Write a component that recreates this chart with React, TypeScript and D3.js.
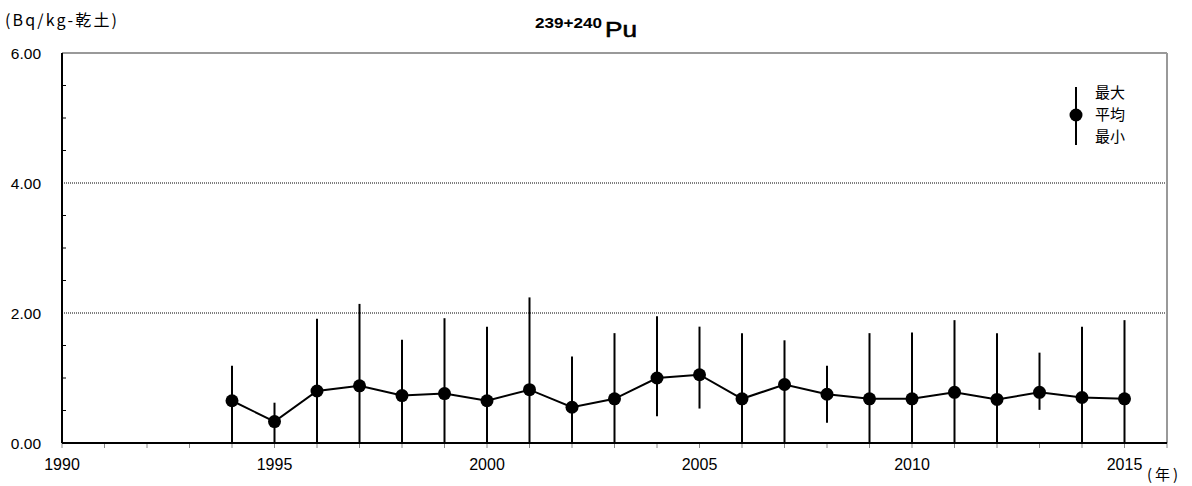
import React from "react";
import * as d3 from "d3";

const years = [1994, 1995, 1996, 1997, 1998, 1999, 2000, 2001, 2002, 2003, 2004, 2005, 2006, 2007, 2008, 2009, 2010, 2011, 2012, 2013, 2014, 2015];
const meanValues = [0.65, 0.33, 0.8, 0.88, 0.73, 0.76, 0.65, 0.82, 0.55, 0.68, 1.0, 1.05, 0.68, 0.9, 0.75, 0.68, 0.68, 0.78, 0.67, 0.78, 0.7, 0.68];
const maxValues = [1.19, 0.62, 1.91, 2.14, 1.59, 1.92, 1.79, 2.24, 1.33, 1.69, 1.95, 1.79, 1.69, 1.58, 1.19, 1.69, 1.7, 1.89, 1.69, 1.39, 1.79, 1.89];
const minValues = [0, 0, 0, 0, 0, 0, 0, 0, 0, 0, 0.41, 0.53, 0, 0, 0.31, 0, 0, 0, 0, 0.51, 0, 0];
const yTicks = [0, 2, 4, 6];
const xTickLabels = [1990, 1995, 2000, 2005, 2010, 2015];
const legendLabels = ["最大", "平均", "最小"];

const W = 1192;
const H = 486;
const L = 62, R = 1167, T = 53, B = 443;

export default function App() {
  const x = d3.scaleLinear().domain([1990, 2016]).range([L, R]);
  const y = d3.scaleLinear().domain([0, 6]).range([B, T]);
  const line = d3.line<number>().x((_, i) => x(years[i])).y((d) => y(d));
  const minorY = d3.range(0, 6.01, 0.5).filter((v) => !yTicks.includes(v));
  const allYears = d3.range(1990, 2017);
  const num = "'Liberation Sans', Arial, sans-serif";
  const jp = "'Noto Sans CJK JP', sans-serif";

  return (
    <svg width={W} height={H} style={{ position: "absolute", left: 0, top: 0, background: "#fff" }}>
      <rect x={0} y={0} width={W} height={H} fill="#fff" />
      {/* unit */}
      <text x={5} y={26} fontFamily={jp} fontSize={16} fill="#000" textLength={112} lengthAdjust="spacing">(Bq/kg-乾土)</text>
      {/* title */}
      <text x={535} y={28} fontFamily={num} fontSize={14} fontWeight="bold" fill="#000" textLength={67} lengthAdjust="spacingAndGlyphs">239+240</text>
      <text x={605} y={37} fontFamily={num} fontSize={22} fill="#000" stroke="#000" strokeWidth={0.6} textLength={32} lengthAdjust="spacingAndGlyphs">Pu</text>
      {/* gridlines */}
      {[2, 4].map((v) => (
        <line key={v} x1={L} x2={R} y1={y(v)} y2={y(v)} stroke="#000" strokeWidth={1} strokeDasharray="1,1" />
      ))}
      {/* frame */}
      <line x1={L} x2={R} y1={T} y2={T} stroke="#999" strokeWidth={2} />
      <line x1={R} x2={R} y1={T} y2={B} stroke="#999" strokeWidth={2} />
      {/* y minor ticks */}
      {minorY.map((v) => (
        <line key={v} x1={L} x2={L + 4} y1={y(v)} y2={y(v)} stroke="#000" strokeWidth={1} />
      ))}
      {/* x ticks */}
      {allYears.map((v) => (
        <line key={v} x1={x(v)} x2={x(v)} y1={B} y2={B + 5} stroke="#888" strokeWidth={1} />
      ))}
      {/* axes */}
      <line x1={L} x2={L} y1={T} y2={B} stroke="#000" strokeWidth={2} />
      <line x1={L} x2={R} y1={B} y2={B} stroke="#000" strokeWidth={2} />
      {/* y labels */}
      {yTicks.map((v) => (
        <text key={v} x={41} y={y(v) + 6} textAnchor="end" fontFamily={num} fontSize={15.5} fill="#000">
          {v.toFixed(2)}
        </text>
      ))}
      {/* x labels */}
      {xTickLabels.map((v) => (
        <text key={v} x={x(v)} y={470} textAnchor="middle" fontFamily={num} fontSize={16} fill="#000">
          {v}
        </text>
      ))}
      <text x={1147} y={480} fontFamily={jp} fontSize={15} fill="#000" textLength={31} lengthAdjust="spacing">(年)</text>
      {/* error bars */}
      {years.map((yr, i) => (
        <line key={yr} x1={x(yr)} x2={x(yr)} y1={y(maxValues[i])} y2={y(minValues[i])} stroke="#000" strokeWidth={2} />
      ))}
      {/* mean line */}
      <path d={line(meanValues) || ""} fill="none" stroke="#000" strokeWidth={2} />
      {years.map((yr, i) => (
        <circle key={yr} cx={x(yr)} cy={y(meanValues[i])} r={6.5} fill="#000" />
      ))}
      {/* legend */}
      <line x1={1076} x2={1076} y1={87} y2={145} stroke="#000" strokeWidth={2} />
      <circle cx={1076} cy={115} r={6.5} fill="#000" />
      {legendLabels.map((t, i) => (
        <text key={t} x={1095} y={98 + i * 22} fontFamily={jp} fontSize={15} fill="#000">{t}</text>
      ))}
    </svg>
  );
}
